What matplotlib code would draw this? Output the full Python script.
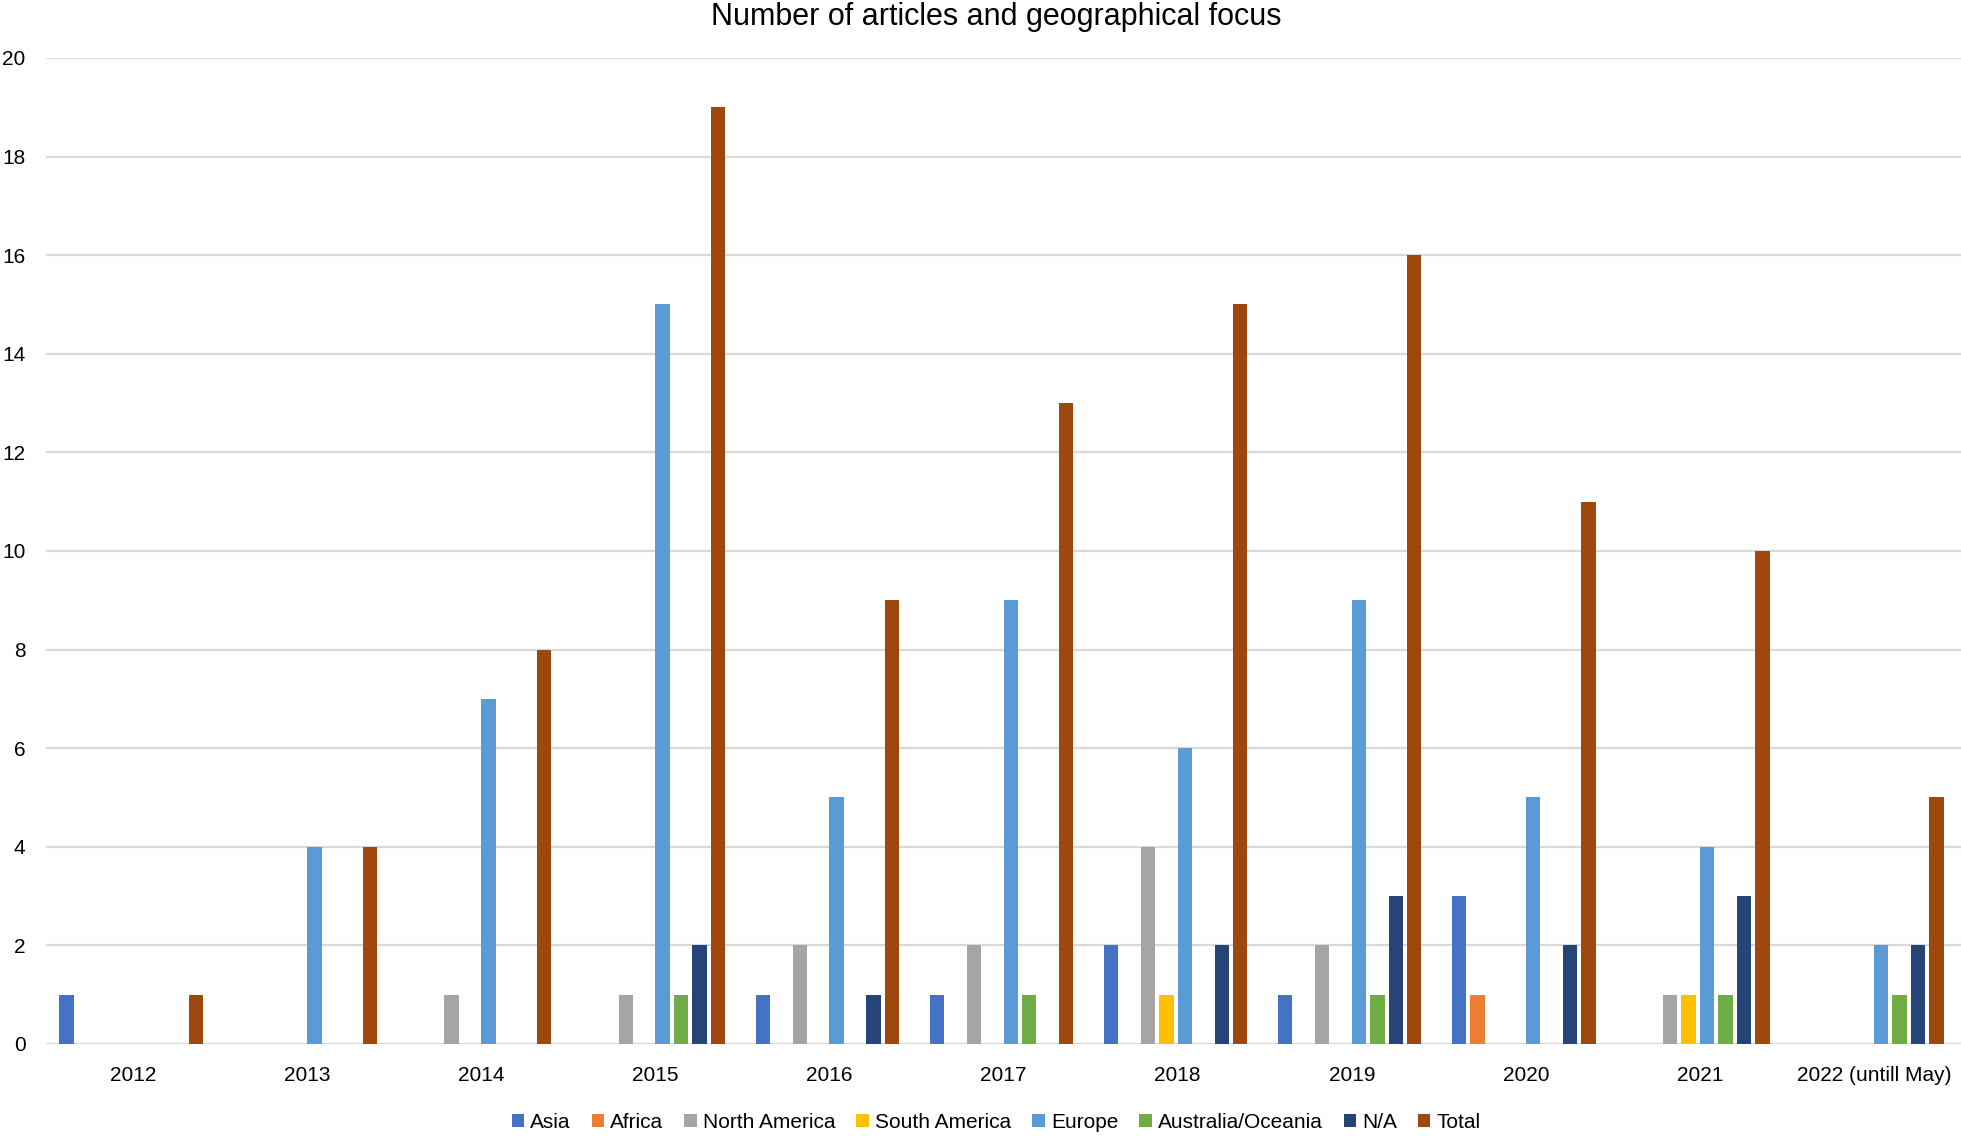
import numpy as np
import matplotlib
matplotlib.use("Agg")
import matplotlib.pyplot as plt

# ── Datos ────────────────────────────────────────────────────────────────────
years = ["2012", "2013", "2014", "2015", "2016", "2017", "2018", "2019",
         "2020", "2021", "2022 (untill May)"]
asia          = [1, 0, 0, 0, 1, 1, 2, 1, 3, 0, 0]
africa        = [0, 0, 0, 0, 0, 0, 0, 0, 1, 0, 0]
north_america = [0, 0, 1, 1, 2, 2, 4, 2, 0, 1, 0]
south_america = [0, 0, 0, 0, 0, 0, 1, 0, 0, 1, 0]
europe        = [0, 4, 7, 15, 5, 9, 6, 9, 5, 4, 2]
australia     = [0, 0, 0, 1, 0, 1, 0, 1, 0, 1, 1]
n_a           = [0, 0, 0, 2, 1, 0, 2, 3, 2, 3, 2]
total         = [1, 4, 8, 19, 9, 13, 15, 16, 11, 10, 5]

series = [
    ("Asia", asia, "#4472C4"),
    ("Africa", africa, "#ED7D31"),
    ("North America", north_america, "#A5A5A5"),
    ("South America", south_america, "#FFC000"),
    ("Europe", europe, "#5B9BD5"),
    ("Australia/Oceania", australia, "#70AD47"),
    ("N/A", n_a, "#264478"),
    ("Total", total, "#9E480E"),
]

plt.rcParams["font.family"] = ["Liberation Sans", "DejaVu Sans"]

fig = plt.figure(figsize=(19.61, 11.36), dpi=100)
ax = fig.add_axes([0.0236, 0.081, 0.9764, 0.868])

x = np.arange(len(years))
slot = 0.106
w = 0.083
n = len(series)
for i, (name, vals, col) in enumerate(series):
    off = (i - (n - 1) / 2) * slot
    ax.bar(x + off - 0.012, vals, width=w, color=col, label=name, zorder=3)

ax.set_xlim(-0.5, len(years) - 0.5)
ax.set_ylim(0, 20)
ax.set_yticks(range(0, 21, 2))
ax.set_xticks(x)
ax.set_xticklabels(years)
ax.tick_params(axis="both", length=0, labelsize=15, colors="#000000")
ax.tick_params(axis="y", pad=15)
ax.tick_params(axis="x", pad=16)
ax.yaxis.grid(True, color="#D9D9D9", linewidth=1.6, zorder=0)
ax.set_axisbelow(True)
for s in ax.spines.values():
    s.set_visible(False)

fig.suptitle("Number of articles and geographical focus", fontsize=22,
             x=0.508, y=0.998, va="top")

fig.legend(loc="lower center", bbox_to_anchor=(0.508, -0.013), ncol=8, frameon=False,
           fontsize=15, handlelength=0.6, handleheight=0.6, handletextpad=0.3,
           columnspacing=1.0)

fig.savefig("out.png", dpi=100)
